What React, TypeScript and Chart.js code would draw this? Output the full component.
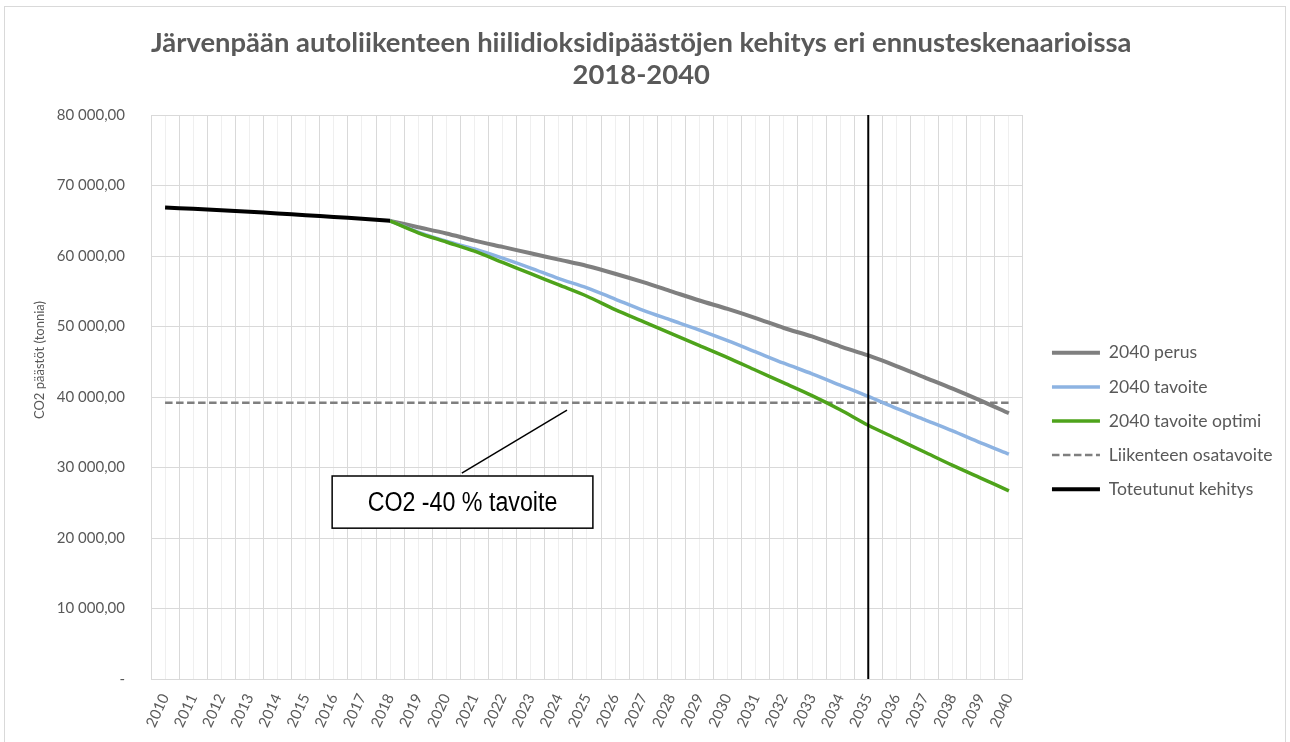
import React, { useEffect, useRef } from 'react';
import { Chart, registerables } from 'chart.js';

Chart.register(...registerables);

// ---------- data ----------
const YEARS = [
  '2010', '2011', '2012', '2013', '2014', '2015', '2016', '2017', '2018', '2019',
  '2020', '2021', '2022', '2023', '2024', '2025', '2026', '2027', '2028', '2029',
  '2030', '2031', '2032', '2033', '2034', '2035', '2036', '2037', '2038', '2039', '2040',
];

const PERUS = [
  null, null, null, null, null, null, null, null,
  65000, 64100, 63200, 62200, 61300, 60400, 59500, 58600, 57500, 56300, 55000, 53700,
  52500, 51200, 49800, 48600, 47200, 45900, 44400, 42800, 41200, 39500, 37700,
];

const TAVOITE = [
  null, null, null, null, null, null, null, null,
  65000, 63400, 62100, 61000, 59700, 58300, 56800, 55500, 53900, 52300, 50900, 49500,
  48000, 46400, 44800, 43300, 41700, 40100, 38400, 36800, 35200, 33500, 31900,
];

const OPTIMI = [
  null, null, null, null, null, null, null, null,
  65000, 63300, 62000, 60700, 59100, 57500, 55900, 54300, 52400, 50700, 49000, 47300,
  45600, 43800, 42000, 40200, 38200, 36000, 34100, 32200, 30300, 28500, 26700,
];

const OSATAVOITE = [
  39200, 39200, 39200, 39200, 39200, 39200, 39200, 39200, 39200, 39200,
  39200, 39200, 39200, 39200, 39200, 39200, 39200, 39200, 39200, 39200,
  39200, 39200, 39200, 39200, 39200, 39200, 39200, 39200, 39200, 39200, 39200,
];

const TOTEUTUNUT = [
  66900, 66700, 66500, 66300, 66050, 65800, 65550, 65300, 65000,
  null, null, null, null, null, null, null, null, null, null, null, null,
  null, null, null, null, null, null, null, null, null, null,
];

const SERIES_NAMES = ['2040 perus', '2040 tavoite', '2040 tavoite optimi', 'Liikenteen osatavoite', 'Toteutunut kehitys'];
const TITLE_LINES = ['Järvenpään autoliikenteen hiilidioksidipäästöjen kehitys eri ennusteskenaarioissa', '2018-2040'];
const Y_TITLE = 'CO2 päästöt (tonnia)';
const MARKER_YEAR = '2035';
const NOTE_TEXT = 'CO2 -40 % tavoite';

// annotation placement in data space (category index, value)
const NOTE_BOX = { x1: 5.94, x2: 15.21, yTop: 28800, yBottom: 21400 };
const NOTE_LEADER = { x1: 10.55, y1: 29200, x2: 14.29, y2: 38150 };

const TEXT_COLOR = '#595959';
const GRID_MAJOR = '#d9d9d9';
const GRID_MINOR = '#efefef';

function formatFi(v: number): string {
  if (v === 0) return '-';
  const s = Math.round(v).toString().replace(/\B(?=(\d{3})+(?!\d))/g, ' ');
  return s + ',00';
}

const overlayPlugin = {
  id: 'overlay',
  afterDatasetsDraw(chart: any) {
    const { ctx, chartArea, scales } = chart;
    const x = scales.x;
    const y = scales.y;
    ctx.save();
    // vertical marker line
    const mx = x.getPixelForValue(YEARS.indexOf(MARKER_YEAR));
    ctx.strokeStyle = '#000000';
    ctx.lineWidth = 2;
    ctx.beginPath();
    ctx.moveTo(mx, chartArea.top);
    ctx.lineTo(mx, chartArea.bottom);
    ctx.stroke();

    // leader line
    ctx.lineWidth = 1.5;
    ctx.beginPath();
    ctx.moveTo(x.getPixelForValue(NOTE_LEADER.x1), y.getPixelForValue(NOTE_LEADER.y1));
    ctx.lineTo(x.getPixelForValue(NOTE_LEADER.x2), y.getPixelForValue(NOTE_LEADER.y2));
    ctx.stroke();

    // box
    const bx1 = x.getPixelForValue(NOTE_BOX.x1);
    const bx2 = x.getPixelForValue(NOTE_BOX.x2);
    const by1 = y.getPixelForValue(NOTE_BOX.yTop);
    const by2 = y.getPixelForValue(NOTE_BOX.yBottom);
    ctx.fillStyle = '#ffffff';
    ctx.fillRect(bx1, by1, bx2 - bx1, by2 - by1);
    ctx.lineWidth = 1.5;
    ctx.strokeRect(bx1, by1, bx2 - bx1, by2 - by1);
    ctx.fillStyle = '#000000';
    ctx.font = '27px "Liberation Sans", Arial, sans-serif';
    ctx.textAlign = 'center';
    ctx.textBaseline = 'middle';
    ctx.translate((bx1 + bx2) / 2, (by1 + by2) / 2 + 1);
    ctx.scale(0.86, 1);
    ctx.fillText(NOTE_TEXT, 0, 0);
    ctx.restore();
  },
  afterDraw(chart: any) {
    const { ctx, chartArea } = chart;
    ctx.save();
    ctx.translate(40, (chartArea.top + chartArea.bottom) / 2 - 37);
    ctx.rotate(-Math.PI / 2);
    ctx.fillStyle = TEXT_COLOR;
    ctx.font = '13px Lato, sans-serif';
    ctx.textAlign = 'center';
    ctx.textBaseline = 'middle';
    ctx.fillText(Y_TITLE, 0, 0);
    ctx.restore();
  },
};

export default function App() {
  const canvasRef = useRef<HTMLCanvasElement | null>(null);

  useEffect(() => {
    const canvas = canvasRef.current;
    if (!canvas) return;
    Chart.defaults.font.family = 'Lato, sans-serif';
    Chart.defaults.color = TEXT_COLOR;

    const baseGenerate = (Chart.defaults as any).plugins.legend.labels.generateLabels;

    const chart = new Chart(canvas, {
      type: 'line',
      data: {
        labels: YEARS,
        datasets: [
          {
            label: SERIES_NAMES[0],
            data: PERUS,
            borderColor: '#7f7f7f',
            backgroundColor: '#7f7f7f',
            borderWidth: 4,
            pointRadius: 0,
            tension: 0.3,
            order: 3,
          },
          {
            label: SERIES_NAMES[1],
            data: TAVOITE,
            borderColor: '#8db3e2',
            backgroundColor: '#8db3e2',
            borderWidth: 3.5,
            pointRadius: 0,
            tension: 0.3,
            order: 2,
          },
          {
            label: SERIES_NAMES[2],
            data: OPTIMI,
            borderColor: '#4ea31b',
            backgroundColor: '#4ea31b',
            borderWidth: 3.5,
            pointRadius: 0,
            tension: 0.3,
            order: 1,
          },
          {
            label: SERIES_NAMES[3],
            data: OSATAVOITE,
            borderColor: '#7f7f7f',
            backgroundColor: '#7f7f7f',
            borderWidth: 2.5,
            borderDash: [7.5, 3.5],
            pointRadius: 0,
            tension: 0,
            order: 4,
          },
          {
            label: SERIES_NAMES[4],
            data: TOTEUTUNUT,
            borderColor: '#000000',
            backgroundColor: '#000000',
            borderWidth: 4,
            pointRadius: 0,
            tension: 0.3,
            order: 0,
          },
        ],
      },
      options: {
        responsive: false,
        animation: false,
        layout: { padding: { left: 0, right: 7.5, top: 0, bottom: 0 } },
        plugins: {
          title: {
            display: true,
            text: TITLE_LINES,
            color: TEXT_COLOR,
            font: { family: 'Lato, sans-serif', size: 27.4, weight: 'bold', lineHeight: 1.17 },
            padding: { top: 27, bottom: 24 },
          },
          legend: {
            position: 'right',
            align: 'center',
            maxWidth: 320,
            title: {
              display: true,
              text: '',
              font: { size: 10, lineHeight: 1 },
              padding: { top: 90, bottom: 0 },
            },
            labels: {
              usePointStyle: true,
              pointStyle: 'line',
              pointStyleWidth: 48,
              boxHeight: 18,
              padding: 16.5,
              color: TEXT_COLOR,
              font: { family: 'Lato, sans-serif', size: 17.6 },
              sort: (a: any, b: any) => a.datasetIndex - b.datasetIndex,
              generateLabels: (c: any) => {
                const items = baseGenerate(c);
                items.forEach((it: any) => {
                  const ds = c.data.datasets[it.datasetIndex];
                  it.lineDash = ds.borderDash || [];
                  it.lineWidth = ds.borderWidth;
                  it.strokeStyle = ds.borderColor;
                });
                return items;
              },
            },
          },
          tooltip: { enabled: false },
        },
        scales: {
          xMinor: {
            type: 'category',
            labels: YEARS,
            position: 'bottom',
            offset: true,
            z: -1,
            grid: { display: true, offset: false, color: GRID_MINOR, drawTicks: false, lineWidth: 1 },
            border: { display: false },
            ticks: { display: false },
            afterFit: (s: any) => { s.height = 0; },
          },
          x: {
            type: 'category',
            position: 'bottom',
            offset: true,
            grid: { display: true, offset: true, color: GRID_MAJOR, drawTicks: false, lineWidth: 1 },
            border: { display: true, color: GRID_MAJOR },
            ticks: {
              autoSkip: false,
              minRotation: 65,
              maxRotation: 65,
              padding: 12,
              color: TEXT_COLOR,
              font: { size: 15 },
            },
            afterFit: (s: any) => { s.height = 63; },
          },
          y: {
            type: 'linear',
            min: 0,
            max: 80000,
            grid: { color: GRID_MAJOR, drawTicks: false },
            border: { display: true, color: GRID_MAJOR },
            ticks: {
              stepSize: 10000,
              padding: 26,
              color: TEXT_COLOR,
              font: { size: 15 },
              callback: (v: any) => formatFi(Number(v)),
            },
            afterFit: (s: any) => { s.width = 151; },
          },
          gap: {
            type: 'linear',
            position: 'right',
            display: true,
            grid: { display: false },
            border: { display: false },
            ticks: { display: false },
            afterFit: (s: any) => { s.width = 12.5; },
          },
        },
      } as any,
      plugins: [overlayPlugin],
    });

    return () => chart.destroy();
  }, []);

  return (
    <div style={{ position: 'fixed', left: 0, top: 0, width: 1290, height: 742, background: '#ffffff' }}>
      <canvas ref={canvasRef} width={1290} height={742} style={{ display: 'block' }} />
      <div
        style={{
          position: 'absolute',
          left: 4,
          top: 6,
          width: 1280,
          height: 745,
          border: '1px solid #d9d9d9',
          pointerEvents: 'none',
        }}
      />
    </div>
  );
}
